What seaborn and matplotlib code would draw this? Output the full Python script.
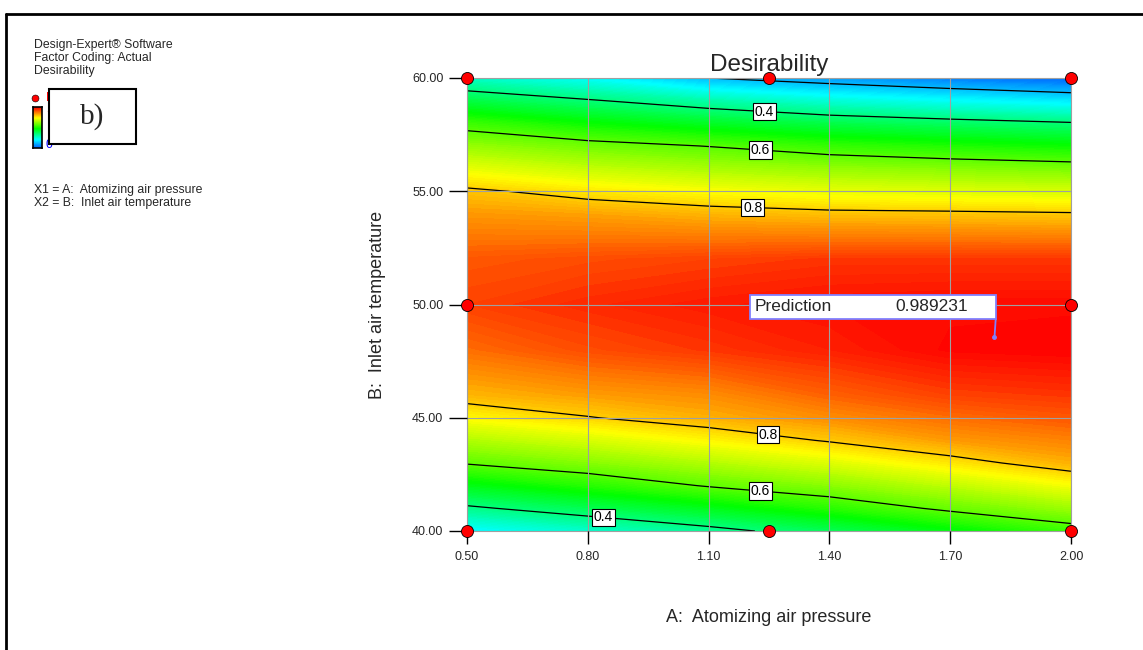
import numpy as np
import pandas as pd
import seaborn as sns
import matplotlib.pyplot as plt
from matplotlib.colors import LinearSegmentedColormap
from matplotlib.patches import Rectangle
from matplotlib.lines import Line2D
from matplotlib.ticker import FormatStrFormatter

sns.set_style('white')
plt.rcParams['font.family'] = ['Liberation Sans', 'DejaVu Sans']

# Factor levels of the response grid
pressure = [0.5, 0.8, 1.1, 1.4, 1.7, 2.0]
temperature = [40, 41, 42, 43, 44, 45, 46, 48, 50, 52, 54, 55, 56, 57, 58, 59, 60]

# Desirability along temperature, one list per pressure level
d_050 = [0.270, 0.387, 0.497, 0.605, 0.682, 0.760, 0.824, 0.890, 0.930, 0.910, 0.850, 0.811, 0.736, 0.658, 0.572, 0.454, 0.330]
d_080 = [0.323, 0.440, 0.550, 0.642, 0.719, 0.797, 0.845, 0.920, 0.950, 0.920, 0.840, 0.778, 0.701, 0.624, 0.522, 0.407, 0.278]
d_110 = [0.377, 0.492, 0.605, 0.684, 0.762, 0.829, 0.860, 0.940, 0.965, 0.930, 0.824, 0.754, 0.676, 0.598, 0.483, 0.357, 0.200]
d_140 = [0.437, 0.552, 0.646, 0.726, 0.805, 0.860, 0.900, 0.960, 0.975, 0.940, 0.813, 0.736, 0.656, 0.565, 0.449, 0.313, 0.163]
d_170 = [0.505, 0.614, 0.696, 0.778, 0.847, 0.890, 0.930, 0.985, 0.980, 0.940, 0.810, 0.727, 0.643, 0.543, 0.427, 0.281, 0.130]
d_200 = [0.569, 0.663, 0.749, 0.829, 0.870, 0.910, 0.940, 0.990, 0.980, 0.940, 0.805, 0.719, 0.632, 0.524, 0.406, 0.254, 0.100]

plain_levels = [0.2]
labelled_levels = [0.4, 0.6, 0.8]

# Design points
design_a = [0.5, 1.25, 2.0, 0.5, 2.0, 0.5, 1.25, 2.0]
design_b = [40, 40, 40, 50, 50, 60, 60, 60]

# Prediction flag
pred_a, pred_b, pred_value = 1.81, 48.56, 0.989231

grid = pd.DataFrame({0.5: d_050, 0.8: d_080, 1.1: d_110, 1.4: d_140, 1.7: d_170, 2.0: d_200},
                    index=temperature)
X, Y = np.meshgrid(grid.columns.values, grid.index.values)
Z = grid.values

# blue -> cyan -> green -> yellow -> red, stretched over 0.10 .. 0.99
cmap = LinearSegmentedColormap.from_list(
    'de', [(0.0, '#0064ff'), (0.20, '#00ffff'), (0.47, '#00ff00'), (0.74, '#ffff00'), (1.0, '#ff0000')])

fig = plt.figure(figsize=(11.43, 6.5), dpi=100)
ax = fig.add_axes([467 / 1143, 1 - 531 / 650, 604 / 1143, 453 / 650])

ax.contourf(X, Y, Z, levels=np.linspace(0.1, 0.99, 120), cmap=cmap, extend='both')
ax.contour(X, Y, Z, levels=plain_levels, colors='black', linewidths=0.9)
cs = ax.contour(X, Y, Z, levels=labelled_levels, colors='black', linewidths=0.9)
label_spots = [(1.24, 58.94), (1.23, 57.17), (1.21, 54.6), (1.25, 44.55), (1.23, 42.07), (0.84, 40.93)]
labels = ax.clabel(cs, manual=label_spots, inline=False, fmt='%.1f', fontsize=10)
for t in labels:
    t.set_rotation(0)
    t.set_zorder(6)
    t.set_bbox(dict(facecolor='white', edgecolor='black', pad=1.2, linewidth=0.8))

sns.scatterplot(x=design_a, y=design_b, ax=ax, color='#ff0000', edgecolor='black', linewidth=0.6,
                s=75, zorder=7, clip_on=False, legend=False)

# Prediction flag
ax.add_patch(Rectangle((1.204, 49.35), 0.609, 1.08, facecolor='white', edgecolor='#8080ff', lw=1.3, zorder=8))
ax.plot([1.813, pred_a], [49.35, pred_b], color='#8080ff', lw=1.3, zorder=8)
ax.plot([pred_a], [pred_b], 'o', color='#8080ff', ms=2.5, zorder=8)
ax.text(1.215, 49.9, 'Prediction', fontsize=12.5, va='center', ha='left', zorder=9)
ax.text(1.565, 49.9, f'{pred_value:.6f}', fontsize=12.5, va='center', ha='left', zorder=9)

ax.set_xlim(0.5, 2.0)
ax.set_ylim(40, 60)
ax.set_xticks([0.5, 0.8, 1.1, 1.4, 1.7, 2.0])
ax.set_yticks([40, 45, 50, 55, 60])
ax.xaxis.set_major_formatter(FormatStrFormatter('%.2f'))
ax.yaxis.set_major_formatter(FormatStrFormatter('%.2f'))
ax.tick_params(axis='x', direction='out', length=9.5, width=1, color='black', labelsize=9, pad=5, bottom=True)
ax.tick_params(axis='y', direction='out', length=13, width=1, color='black', labelsize=9, pad=4, left=True)
ax.grid(True, color='#a0a0a0', lw=0.8)
ax.set_axisbelow(False)
for sp in ax.spines.values():
    sp.set_color('#a0a0a0')
    sp.set_linewidth(0.8)
ax.set_xlabel('')
ax.set_ylabel('')
ax.set_title('Desirability', fontsize=17.5, pad=5)

fig.text(769 / 1143, 1 - 617 / 650, 'A:  Atomizing air pressure', fontsize=13, ha='center', va='center')
fig.text(377 / 1143, 1 - 305 / 650, 'B:  Inlet air temperature', fontsize=13, ha='center', va='center',
         rotation=90)

# Side notes
for i, line in enumerate(['Design-Expert® Software', 'Factor Coding: Actual', 'Desirability']):
    fig.text(34 / 1143, 1 - (45 + 12.8 * i) / 650, line, fontsize=8.8, va='center', ha='left')
fig.text(34 / 1143, 1 - 190 / 650, 'X1 = A:  Atomizing air pressure', fontsize=8.8, va='center')
fig.text(34 / 1143, 1 - 203 / 650, 'X2 = B:  Inlet air temperature', fontsize=8.8, va='center')

fig.add_artist(Line2D([35 / 1143], [1 - 98 / 650], marker='o', color='#ff0000', mec='black', mew=0.4, ms=5))
fig.text(46 / 1143, 1 - 98 / 650, 'Design Points', color='#ff0000', fontsize=8.8, va='center')
fig.text(46 / 1143, 1 - 109 / 650, '1', color='#ff0000', fontsize=8.8, va='center')
fig.text(46 / 1143, 1 - 145 / 650, '0', color='#0000ff', fontsize=8.8, va='center')
cax = fig.add_axes([33 / 1143, 1 - 148 / 650, 9 / 1143, 41 / 650])
cax.imshow(np.linspace(1, 0, 50).reshape(-1, 1), aspect='auto', cmap=cmap)
cax.set_xticks([])
cax.set_yticks([])
for sp in cax.spines.values():
    sp.set_color('black')
    sp.set_linewidth(1.2)

fig.add_artist(Rectangle((49 / 1143, 1 - 144 / 650), 87 / 1143, 55 / 650, transform=fig.transFigure,
                         facecolor='white', edgecolor='black', lw=1.5, zorder=10))
fig.text(92 / 1143, 1 - 117 / 650, 'b)', fontsize=21, family='Liberation Serif', ha='center', va='center',
         zorder=11)

# outer frame (top and left edges)
fig.add_artist(Line2D([6 / 1143, 1], [1 - 14 / 650, 1 - 14 / 650], color='black', lw=2))
fig.add_artist(Line2D([6 / 1143, 6 / 1143], [0, 1 - 14 / 650], color='black', lw=2))

fig.savefig('out.png', dpi=100)
